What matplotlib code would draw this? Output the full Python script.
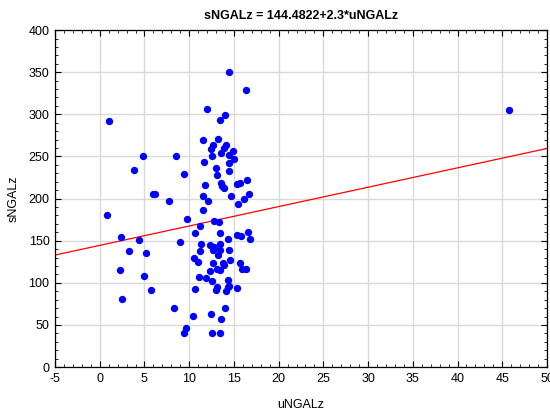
import matplotlib

matplotlib.use("Agg")
import matplotlib.pyplot as plt
import numpy as np
from matplotlib.ticker import MultipleLocator

plt.rcParams["font.family"] = ["Liberation Sans", "DejaVu Sans"]
plt.rcParams["axes.unicode_minus"] = False

# uNGALz / sNGALz pairs
ungal = [
    1.0, 4.8, 3.8, 5.9, 6.2, 7.7, 0.85, 2.4, 4.4, 3.3, 5.2, 2.3, 5.0, 5.7, 2.5,
    14.5, 16.3, 12.0, 14.0, 13.4, 11.5, 13.2, 12.7, 12.4, 14.1, 13.9, 13.6, 14.9,
    14.4, 15.0, 12.5, 8.5, 11.7, 14.4, 9.4, 13.0, 13.15, 14.4, 11.8, 13.6, 13.7,
    13.9, 15.3, 15.7, 16.5, 16.7, 16.1, 11.5, 12.1, 14.7, 15.5, 11.6, 9.8,
    12.8, 13.3, 11.2, 10.7, 13.5, 15.3, 15.8, 16.6, 16.8, 14.3, 9.0, 11.3, 12.3,
    12.8, 13.5, 12.7, 13.5, 11.2, 14.4, 13.2, 10.5, 11.0, 14.6, 12.7, 13.8, 13.9,
    15.7, 13.1, 13.4, 15.9, 16.4, 12.3, 11.1, 11.9, 12.5, 14.3, 10.6, 13.0,
    13.1, 14.1, 14.3, 14.5, 15.4, 8.3, 14.0, 10.4, 12.4, 13.6, 9.7, 9.4, 12.5,
    13.5, 45.7,
]
sngal = [
    292, 250, 234, 205, 205, 197, 181, 154, 151, 138, 136, 115, 108, 91, 81,
    350, 329, 306, 299, 293, 270, 271, 264, 259, 264, 260, 254, 256,
    252, 247, 251, 250, 243, 242, 229, 236, 228, 233, 216, 219, 215,
    212, 217, 218, 222, 206, 200, 203, 197, 203, 194, 186, 176,
    173, 172, 168, 159, 159, 157, 156, 160, 152, 152, 148, 146, 145,
    143, 146, 139, 139, 138, 139, 133, 130, 125, 127, 124, 124, 121,
    124, 116, 115, 116, 116, 114, 107, 106, 102, 103, 93, 91,
    95, 90, 95, 96, 94, 70, 70, 61, 63, 57, 46, 40, 41,
    40, 305,
]
intercept = 144.4822
slope = 2.3

fig = plt.figure(figsize=(5.5, 4.12), dpi=100)
ax = fig.add_axes([0.1, 0.109, 0.8945, 0.818])

ax.scatter(ungal, sngal, s=28, color="#0000ff", zorder=3, linewidths=0)
xl = np.array([-5, 50])
ax.plot(xl, intercept + slope * xl, color="#ff0000", lw=0.9, zorder=2)

ax.set_xlim(-5, 50)
ax.set_ylim(0, 400)
ax.xaxis.set_major_locator(MultipleLocator(5))
ax.xaxis.set_minor_locator(MultipleLocator(1))
ax.yaxis.set_major_locator(MultipleLocator(50))
ax.yaxis.set_minor_locator(MultipleLocator(10))
ax.tick_params(which="both", direction="in", top=True, right=True, labelsize=9)
ax.tick_params(which="major", length=4, width=0.8, pad=4)
ax.tick_params(which="minor", length=2, width=0.6)
ax.grid(True, which="major", color="#d9d9d9", lw=1)
ax.set_axisbelow(True)
for s in ax.spines.values():
    s.set_color("black")
    s.set_linewidth(0.9)

ax.set_xlabel("uNGALz", fontsize=9, labelpad=10)
ax.set_ylabel("sNGALz", fontsize=9, labelpad=6)
ax.set_title("sNGALz = 144.4822+2.3*uNGALz", fontsize=9, fontweight="bold", pad=8)

fig.savefig("out.png", dpi=100)
